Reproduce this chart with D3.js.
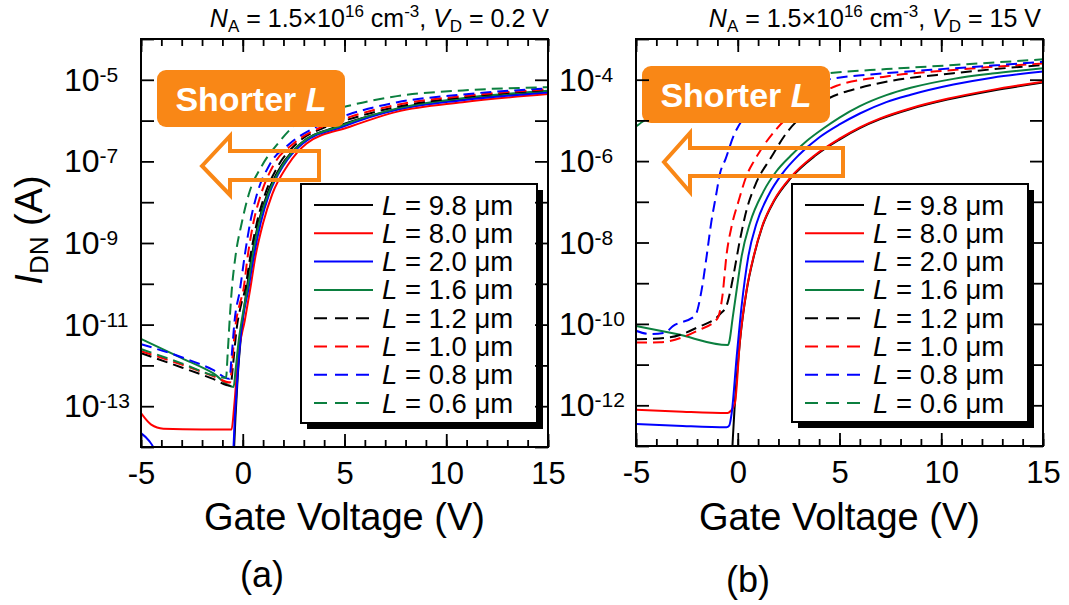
<!DOCTYPE html>
<html><head><meta charset="utf-8">
<script src="https://cdn.jsdelivr.net/npm/d3@7"></script>
<style>
body{margin:0;background:#fff}
svg{display:block}
text{font-family:"Liberation Sans",Arial,Helvetica,sans-serif;fill:#000}
</style>
</head><body>
<svg id="chart" width="1069" height="605"></svg>
<script>
// ---------- data (gate voltage in V, log10 of drain current in A) ----------
const lengthLabels = ["9.8", "8.0", "2.0", "1.6", "1.2", "1.0", "0.8", "0.6"];
const seriesColors = ["#000000", "#ff0000", "#0000ff", "#0b7f3f", "#000000", "#ff0000", "#0000ff", "#0b7f3f"];
const seriesDashed = [false, false, false, false, true, true, true, true];
const xTickValues = [-5, 0, 5, 10, 15];
const xMinorTicks = [-5,-4,-3,-2,-1,0,1,2,3,4,5,6,7,8,9,10,11,12,13,14,15];
const aDecades = [-14,-13,-12,-11,-10,-9,-8,-7,-6,-5,-4];
const aLabelExps = [-5,-7,-9,-11,-13];
const bDecades = [-13,-12,-11,-10,-9,-8,-7,-6,-5,-4,-3];
const bLabelExps = [-4,-6,-8,-10,-12];

// panel (a): V_D = 0.2 V
const a_L98 = [[-0.45,-14.3],[-0.36,-13.3],[-0.25,-12.3],[-0.05,-11.1],[0.19,-10.15],[0.45,-9.3],[0.77,-8.51],[1.2,-7.8],[1.9,-7.1],[2.85,-6.56],[4.6,-6.15],[7.6,-5.72],[10.8,-5.47],[15,-5.29]];
const a_L80 = [[-5,-13.17],[-4.5,-13.45],[-3.9,-13.55],[-2,-13.57],[-0.55,-13.57],[-0.42,-13.0],[-0.22,-11.75],[0.1,-10.9],[0.36,-10.15],[0.62,-9.34],[1.0,-8.51],[1.45,-7.8],[2.2,-7.1],[3.14,-6.56],[5.27,-6.15],[7.6,-5.78],[10.8,-5.55],[15,-5.35]];
const a_L20 = [[-5,-13.66],[-4.6,-13.85],[-4.3,-14.1],[-4,-14.6],[-1,-14.6],[-0.5,-14.3],[-0.38,-13.2],[-0.25,-12.2],[-0.05,-11.05],[0.27,-10.15],[0.55,-9.3],[0.88,-8.51],[1.3,-7.8],[2.0,-7.1],[2.95,-6.56],[4.9,-6.15],[7.6,-5.73],[10.8,-5.5],[15,-5.31]];
const a_L16 = [[-5,-11.35],[-3,-11.82],[-1.46,-12.19],[-0.45,-12.53],[-0.35,-12.1],[-0.2,-11.4],[0.0,-10.75],[0.22,-10.15],[0.48,-9.3],[0.8,-8.51],[1.25,-7.8],[1.95,-7.1],[2.85,-6.56],[4.7,-6.15],[7.6,-5.7],[10.8,-5.45],[15,-5.27]];
const a_L12 = [[-5,-11.7],[-3,-12.05],[-1.46,-12.33],[-0.6,-12.5],[-0.48,-12.0],[-0.3,-11.1],[-0.1,-10.55],[0.11,-10.15],[0.38,-9.3],[0.69,-8.51],[1.1,-7.8],[1.75,-7.1],[2.65,-6.56],[4.12,-6.15],[5.2,-5.97],[7.6,-5.66],[10.8,-5.43],[15,-5.25]];
const a_L10 = [[-5,-11.65],[-3,-11.98],[-1.46,-12.26],[-0.62,-12.42],[-0.52,-11.9],[-0.35,-11.0],[-0.15,-10.5],[0.03,-10.15],[0.25,-9.3],[0.52,-8.51],[0.9,-7.8],[1.5,-7.1],[2.5,-6.56],[3.9,-6.15],[5.2,-5.92],[7.6,-5.61],[10.8,-5.4],[15,-5.23]];
const a_L08 = [[-5,-11.48],[-3,-11.8],[-1.46,-12.11],[-0.65,-12.33],[-0.55,-11.8],[-0.4,-10.9],[-0.14,-10.15],[0.1,-9.3],[0.36,-8.51],[0.7,-7.8],[1.3,-7.1],[2.32,-6.56],[3.63,-6.15],[5.2,-5.85],[7.6,-5.55],[10.8,-5.36],[15,-5.21]];
const a_L06 = [[-5,-11.6],[-3,-11.95],[-1.46,-12.24],[-0.82,-12.3],[-0.74,-11.7],[-0.62,-10.7],[-0.54,-10.15],[-0.35,-9.3],[-0.05,-8.51],[0.3,-7.8],[0.95,-7.1],[1.73,-6.56],[2.47,-6.15],[3.95,-5.81],[5.1,-5.65],[7.58,-5.4],[10.82,-5.26],[15,-5.18]];

// panel (b): V_D = 15 V
const b_L98 = [[-0.3,-13.4],[-0.24,-12.8],[-0.16,-12.1],[0.11,-10.42],[0.44,-9.17],[0.8,-8.32],[1.2,-7.62],[1.8,-6.97],[2.6,-6.42],[3.8,-5.87],[5,-5.47],[6,-5.19],[7,-4.97],[8.5,-4.72],[10.3,-4.49],[12.5,-4.27],[15,-4.07]];
const b_L80 = [[-5,-12.11],[-3,-12.15],[-0.5,-12.19],[-0.35,-12.14],[-0.14,-11.95],[0.11,-10.4],[0.44,-9.15],[0.8,-8.3],[1.2,-7.6],[1.8,-6.95],[2.6,-6.4],[3.8,-5.85],[5,-5.45],[6,-5.17],[7,-4.95],[8.5,-4.7],[10.3,-4.47],[12.5,-4.25],[15,-4.05]];
const b_L20 = [[-5,-12.46],[-3,-12.5],[-0.55,-12.54],[-0.42,-12.5],[-0.3,-12.2],[-0.05,-10.79],[0.19,-9.56],[0.52,-8.34],[0.93,-7.52],[1.5,-6.85],[2.2,-6.3],[3.0,-5.85],[4.0,-5.42],[5,-5.1],[6,-4.83],[7.3,-4.55],[8.5,-4.37],[10.6,-4.12],[12.5,-3.95],[15,-3.8]];
const b_L16 = [[-5,-10.05],[-3,-10.25],[-0.48,-10.52],[-0.4,-10.4],[-0.25,-9.85],[-0.05,-9.15],[0.19,-8.34],[0.6,-7.52],[1.26,-6.75],[1.9,-6.25],[2.6,-5.87],[3.4,-5.5],[4.2,-5.2],[5,-4.93],[6,-4.65],[7.3,-4.38],[8.5,-4.2],[10.6,-3.98],[12.5,-3.85],[15,-3.72]];
const b_L12 = [[-5,-10.38],[-3.33,-10.33],[-2,-10.09],[-0.87,-9.76],[-0.55,-9.55],[-0.38,-9.23],[-0.22,-8.83],[0.11,-7.93],[0.44,-7.19],[0.85,-6.6],[1.65,-5.9],[2.41,-5.3],[3.39,-4.8],[4.5,-4.45],[6,-4.2],[7.3,-4.05],[10.6,-3.84],[15,-3.64]];
const b_L10 = [[-5,-10.46],[-3.82,-10.45],[-2,-10.17],[-1.0,-9.87],[-0.75,-9.3],[-0.55,-8.3],[-0.3,-7.6],[0.03,-7.0],[0.44,-6.35],[0.8,-6.0],[1.1,-5.75],[1.92,-5.2],[3,-4.7],[4.86,-4.15],[7.3,-3.92],[10.6,-3.76],[15,-3.6]];
const b_L08 = [[-5,-10.17],[-4.3,-10.25],[-3.6,-10.22],[-3.17,-10.05],[-2.1,-9.8],[-1.77,-9.15],[-1.53,-8.34],[-1.3,-7.5],[-1.07,-6.85],[-0.87,-6.3],[-0.6,-5.95],[-0.22,-5.4],[0.27,-4.95],[2,-4.3],[4.86,-3.96],[7.3,-3.84],[10.6,-3.72],[15,-3.56]];
const b_L06 = [[-5,-5.15],[-4.5,-4.97],[-4,-4.82],[-3,-4.6],[-1,-4.3],[1,-4.1],[3,-3.95],[4.53,-3.84],[7.3,-3.74],[10.6,-3.64],[15,-3.5]];

const aSeries = [a_L98, a_L80, a_L20, a_L16, a_L12, a_L10, a_L08, a_L06];
const bSeries = [b_L98, b_L80, b_L20, b_L16, b_L12, b_L10, b_L08, b_L06];

// ---------- layout ----------
const ORANGE = "#f98716";
const panels = [
  {id:"a", series:aSeries, left:141, right:548, top:39, bottom:447, decades:aDecades, labelExps:aLabelExps,
   vd:"0.2", titleEnd:549, legend:{x:301,y:184,w:236,h:239},
   box:{x:157,y:70,w:188,h:57}, textY:111,
   arrow:{tip:[202,166], headX:230, headTop:136, headBot:195, bodyTop:151, bodyBot:180, bodyRight:319},
   tag:"(a)", tagX:262, tagY:587},
  {id:"b", series:bSeries, left:636, right:1043, top:39, bottom:446, decades:bDecades, labelExps:bLabelExps,
   vd:"15", titleEnd:1041, legend:{x:792,y:184,w:236,h:238},
   box:{x:642,y:66,w:188,h:57}, textY:107,
   arrow:{tip:[664,162], headX:690, headTop:133, headBot:192, bodyTop:148, bodyBot:176, bodyRight:843},
   tag:"(b)", tagX:748, tagY:592}
];

const svg = d3.select("#chart");
svg.append("rect").attr("width",1069).attr("height",605).attr("fill","#fff");

panels.forEach(p => {
  const x = d3.scaleLinear().domain([-5,15]).range([p.left,p.right]);
  const y = d3.scaleLog().domain([Math.pow(10,p.decades[0]), Math.pow(10,p.decades[p.decades.length-1])]).range([p.bottom,p.top]);
  const g = svg.append("g");

  const clipId = "clip-" + p.id;
  g.append("clipPath").attr("id",clipId).append("rect")
    .attr("x",p.left).attr("y",p.top).attr("width",p.right-p.left).attr("height",p.bottom-p.top);

  const line = d3.line().x(d => x(d[0])).y(d => y(Math.pow(10,d[1]))).curve(d3.curveMonotoneX);
  const cg = g.append("g").attr("clip-path",`url(#${clipId})`);
  p.series.forEach((s,i) => {
    cg.append("path").datum(s).attr("d",line).attr("fill","none")
      .attr("stroke",seriesColors[i]).attr("stroke-width",2)
      .attr("stroke-dasharray",seriesDashed[i] ? "11,6" : null);
  });

  // legend
  const L = p.legend;
  const lg = g.append("g").attr("transform",`translate(${L.x},${L.y})`);
  lg.append("rect").attr("x",6).attr("y",6).attr("width",L.w).attr("height",L.h).attr("fill","#000");
  lg.append("rect").attr("x",0).attr("y",0).attr("width",L.w).attr("height",L.h).attr("fill","#fff").attr("stroke","#000").attr("stroke-width",2);
  lengthLabels.forEach((lab,i) => {
    const cy = 21 + i*28.3;
    lg.append("line").attr("x1",13).attr("x2",72).attr("y1",cy).attr("y2",cy)
      .attr("stroke",seriesColors[i]).attr("stroke-width",2)
      .attr("stroke-dasharray",seriesDashed[i] ? "13,8" : null);
    const t = lg.append("text").attr("x",81).attr("y",cy+9.5).attr("font-size",27.5);
    t.append("tspan").attr("font-style","italic").text("L");
    t.append("tspan").text(" = " + lab + " \u03bcm");
  });

  // "Shorter L" box
  const B = p.box;
  g.append("rect").attr("x",B.x).attr("y",B.y).attr("width",B.w).attr("height",B.h).attr("rx",9).attr("fill",ORANGE);
  const st = g.append("text").attr("x",B.x+B.w/2).attr("y",p.textY).attr("text-anchor","middle")
    .attr("font-size",34).attr("font-weight","bold").style("fill","#fff");
  st.append("tspan").text("Shorter ");
  st.append("tspan").attr("font-style","italic").text("L");

  // arrow outline
  const A = p.arrow;
  const pts = [A.tip,[A.headX,A.headTop],[A.headX,A.bodyTop],[A.bodyRight,A.bodyTop],[A.bodyRight,A.bodyBot],[A.headX,A.bodyBot],[A.headX,A.headBot]];
  g.append("path").attr("d","M"+pts.map(q=>q.join(",")).join("L")+"Z")
    .attr("fill","none").attr("stroke",ORANGE).attr("stroke-width",4).attr("stroke-linejoin","miter");

  // axes
  const style = sel => { sel.select(".domain").remove(); sel.attr("font-size",null).attr("font-family",null);
    sel.selectAll(".tick line").attr("stroke","#000").attr("stroke-width",1.8); };
  g.append("g").attr("transform",`translate(0,${p.bottom})`)
    .call(d3.axisBottom(x).tickValues(xMinorTicks).tickSizeInner(-7).tickSizeOuter(0).tickFormat("")).call(style);
  g.append("g").attr("transform",`translate(0,${p.top})`)
    .call(d3.axisTop(x).tickValues(xMinorTicks).tickSizeInner(-7).tickSizeOuter(0).tickFormat("")).call(style);
  g.append("g").attr("transform",`translate(0,${p.top})`)
    .call(d3.axisTop(x).tickValues(xTickValues).tickSizeInner(-13).tickSizeOuter(0).tickFormat("")).call(style);
  const xb = g.append("g").attr("transform",`translate(0,${p.bottom})`)
    .call(d3.axisBottom(x).tickValues(xTickValues).tickSizeInner(-13).tickSizeOuter(0).tickPadding(15).tickFormat(d => String(d))).call(style);
  xb.selectAll(".tick text").attr("font-size",31).attr("fill","#000");

  const decVals = p.decades.map(e => Math.pow(10,e));
  g.append("g").attr("transform",`translate(${p.left},0)`)
    .call(d3.axisLeft(y).tickValues(decVals).tickSizeInner(-13).tickSizeOuter(0).tickFormat("")).call(style);
  g.append("g").attr("transform",`translate(${p.right},0)`)
    .call(d3.axisRight(y).tickValues(decVals).tickSizeInner(-13).tickSizeOuter(0).tickFormat("")).call(style);
  const yl = g.append("g").attr("transform",`translate(${p.left},0)`)
    .call(d3.axisLeft(y).tickValues(p.labelExps.map(e => Math.pow(10,e))).tickSize(0).tickFormat(""))
    .call(style).attr("text-anchor","start");
  yl.selectAll(".tick text").each(function(d){
    const t = d3.select(this).attr("x",-77).attr("dy",null).attr("y",10.5).attr("font-size",32).text("");
    t.append("tspan").text("10");
    t.append("tspan").attr("font-size",21).attr("dy",-9).text(String(Math.round(Math.log10(d))));
  });

  // frame
  g.append("rect").attr("x",p.left).attr("y",p.top).attr("width",p.right-p.left).attr("height",p.bottom-p.top)
    .attr("fill","none").attr("stroke","#000").attr("stroke-width",2);

  // title
  const tt = g.append("text").attr("x",p.titleEnd).attr("y",27).attr("text-anchor","end").attr("font-size",25);
  tt.append("tspan").attr("font-style","italic").text("N");
  tt.append("tspan").attr("font-size",17).attr("dy",5).text("A");
  tt.append("tspan").attr("dy",-5).text(" = 1.5\u00d710");
  tt.append("tspan").attr("font-size",17).attr("dy",-10).text("16");
  tt.append("tspan").attr("dy",10).text(" cm");
  tt.append("tspan").attr("font-size",17).attr("dy",-10).text("-3");
  tt.append("tspan").attr("dy",10).text(", ");
  tt.append("tspan").attr("font-style","italic").text("V");
  tt.append("tspan").attr("font-size",17).attr("dy",5).text("D");
  tt.append("tspan").attr("dy",-5).text(" = " + p.vd + " V");

  // x axis title and panel tag
  g.append("text").attr("x",(p.left+p.right)/2).attr("y",530).attr("text-anchor","middle").attr("font-size",38).text("Gate Voltage (V)");
  g.append("text").attr("x",p.tagX).attr("y",p.tagY).attr("text-anchor","middle").attr("font-size",36).text(p.tag);
});

// y axis title
const yt = svg.append("text").attr("transform","translate(42,230) rotate(-90)").attr("text-anchor","middle").attr("font-size",38);
yt.append("tspan").attr("font-style","italic").text("I");
yt.append("tspan").attr("font-size",26).attr("dy",6).text("DN");
yt.append("tspan").attr("dy",-6).text(" (A)");
</script>
</body></html>
